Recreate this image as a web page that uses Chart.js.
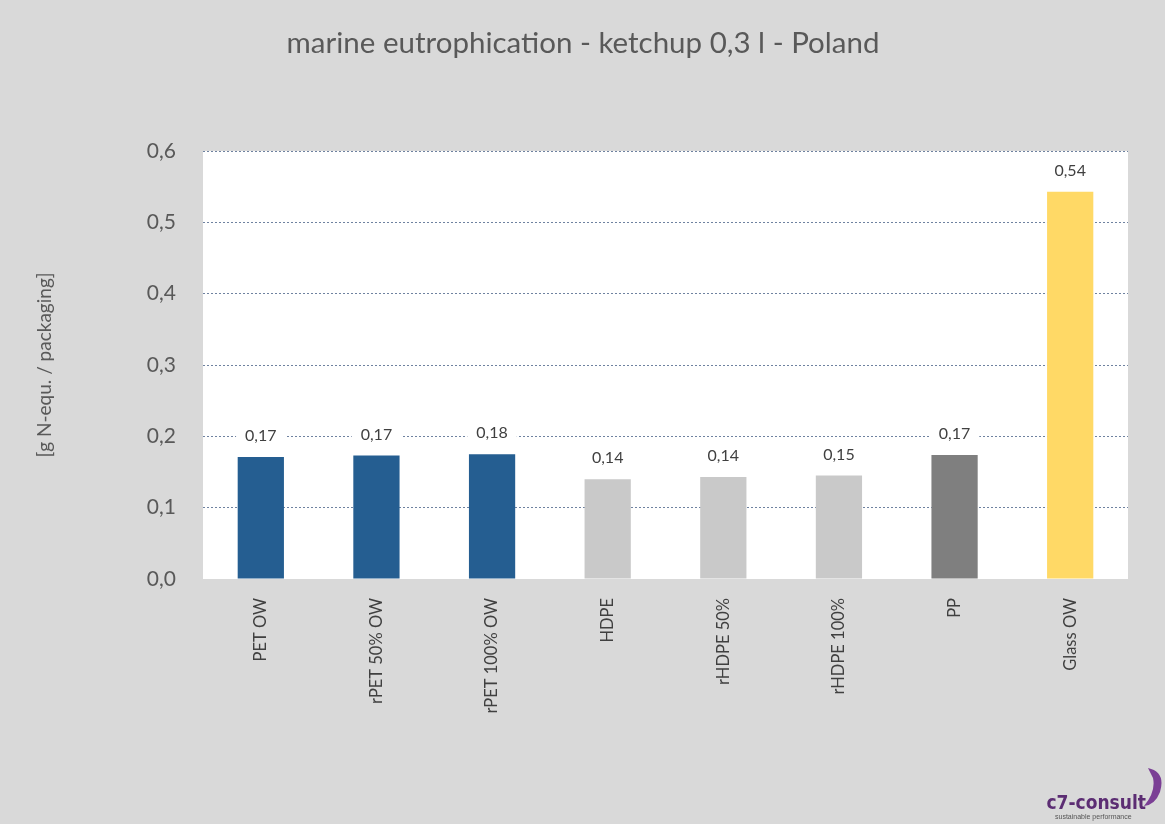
<!DOCTYPE html>
<html>
<head>
<meta charset="utf-8">
<script src="https://cdn.jsdelivr.net/npm/chart.js@4"></script>
<style>
  html, body { margin: 0; padding: 0; background: #d9d9d9; }
  #wrap { width: 1165px; height: 824px; }
</style>
</head>
<body>
<div id="wrap"><canvas id="myChart" width="1165" height="824"></canvas></div>
<script>
// chart data
const categories = ['PET OW', 'rPET 50% OW', 'rPET 100% OW', 'HDPE', 'rHDPE 50%', 'rHDPE 100%', 'PP', 'Glass OW'];
const values = [0.171, 0.173, 0.175, 0.140, 0.143, 0.145, 0.174, 0.543];
const valueLabels = ['0,17', '0,17', '0,18', '0,14', '0,14', '0,15', '0,17', '0,54'];
const barColors = ['#255e91', '#255e91', '#255e91', '#c9c9c9', '#c9c9c9', '#c9c9c9', '#7f7f7f', '#ffd966'];
const titleText = 'marine eutrophication - ketchup 0,3 l - Poland';
const yTitle = '[g N-equ. / packaging]';

const FONT = 'Lato, "Open Sans", "Liberation Sans", sans-serif';

const plotBackground = { // white plot area on the grey page
  id: 'plotBackground',
  beforeDraw(chart) {
    const { ctx, chartArea: a } = chart;
    ctx.save();
    ctx.fillStyle = '#d9d9d9';
    ctx.fillRect(0, 0, chart.width, chart.height);
    ctx.fillStyle = '#ffffff';
    ctx.fillRect(a.left, a.top, a.right - a.left, a.bottom - a.top);
    ctx.restore();
  }
};

const titleText2 = { // centred over the whole page
  id: 'titleText2',
  afterDraw(chart) {
    const { ctx } = chart;
    ctx.save();
    ctx.fillStyle = '#595959';
    ctx.font = '29.5px ' + FONT;
    ctx.textAlign = 'center';
    ctx.textBaseline = 'middle';
    ctx.fillText(titleText, 583, 43);
    ctx.restore();
  }
};

const valueBoxes = { // value labels with white box over the gridlines
  id: 'valueBoxes',
  afterDatasetsDraw(chart) {
    const { ctx } = chart;
    const meta = chart.getDatasetMeta(0);
    ctx.save();
    ctx.font = '16px ' + FONT;
    ctx.textAlign = 'center';
    ctx.textBaseline = 'middle';
    meta.data.forEach((bar, i) => {
      const txt = valueLabels[i];
      const w = ctx.measureText(txt).width + 18;
      const y = bar.y - 21;
      ctx.fillStyle = '#ffffff';
      ctx.fillRect(bar.x - w / 2, y - 10, w, 20);
      ctx.fillStyle = '#404040';
      ctx.fillText(txt, bar.x, y);
    });
    ctx.restore();
  }
};

const logo = { // c7-consult mark, bottom right
  id: 'logo',
  afterDraw(chart) {
    const { ctx } = chart;
    ctx.save();
    ctx.fillStyle = '#5c2d73';
    ctx.font = 'bold 19px "DejaVu Sans Condensed", "Liberation Sans Narrow", sans-serif';
    ctx.textAlign = 'right';
    ctx.textBaseline = 'alphabetic';
    ctx.fillText('c7-consult', 1146, 809);
    ctx.fillStyle = '#555555';
    ctx.font = '7px "Liberation Sans", sans-serif';
    ctx.textAlign = 'left';
    ctx.fillText('sustainable performance', 1055, 819);
    // swoosh
    ctx.fillStyle = '#7b3f95';
    ctx.beginPath();
    ctx.moveTo(1148, 768);
    ctx.quadraticCurveTo(1166, 772, 1160, 792);
    ctx.quadraticCurveTo(1155, 805, 1144, 806);
    ctx.quadraticCurveTo(1156, 792, 1153, 778);
    ctx.quadraticCurveTo(1150, 772, 1148, 768);
    ctx.fill();
    ctx.restore();
  }
};

const ctx = document.getElementById('myChart').getContext('2d');
new Chart(ctx, {
  type: 'bar',
  data: {
    labels: categories,
    datasets: [{
      data: values,
      backgroundColor: barColors,
      borderWidth: 0,
      categoryPercentage: 1,
      barPercentage: 0.4
    }]
  },
  options: {
    responsive: false,
    animation: false,
    devicePixelRatio: 1,
    layout: { padding: { left: 0, right: 37, top: 151, bottom: 0 } },
    plugins: {
      legend: { display: false },
      tooltip: { enabled: false },
      title: { display: false }
    },
    scales: {
      y: {
        min: 0,
        max: 0.6,
        afterFit(scale) { scale.width = 203; },
        border: { display: false, dash: [2, 2] },
        grid: {
          drawTicks: false,
          color: (c) => c.tick.value === 0 ? '#d9d9d9' : '#6f82a0',
          lineWidth: 1
        },
        ticks: {
          stepSize: 0.1,
          padding: 27,
          color: '#595959',
          font: { family: FONT, size: 21 },
          callback: (v) => v.toFixed(1).replace('.', ',')
        },
        title: {
          display: true,
          text: yTitle,
          color: '#595959',
          font: { family: FONT, size: 19 },
          padding: { top: 33, bottom: 0 }
        }
      },
      x: {
        afterFit(scale) { scale.height = 245; },
        border: { display: false },
        grid: { display: false },
        ticks: {
          minRotation: 90,
          maxRotation: 90,
          padding: 11,
          color: '#404040',
          font: { family: FONT, size: 16.5 }
        }
      }
    }
  },
  plugins: [plotBackground, valueBoxes, titleText2, logo]
});
</script>
</body>
</html>
